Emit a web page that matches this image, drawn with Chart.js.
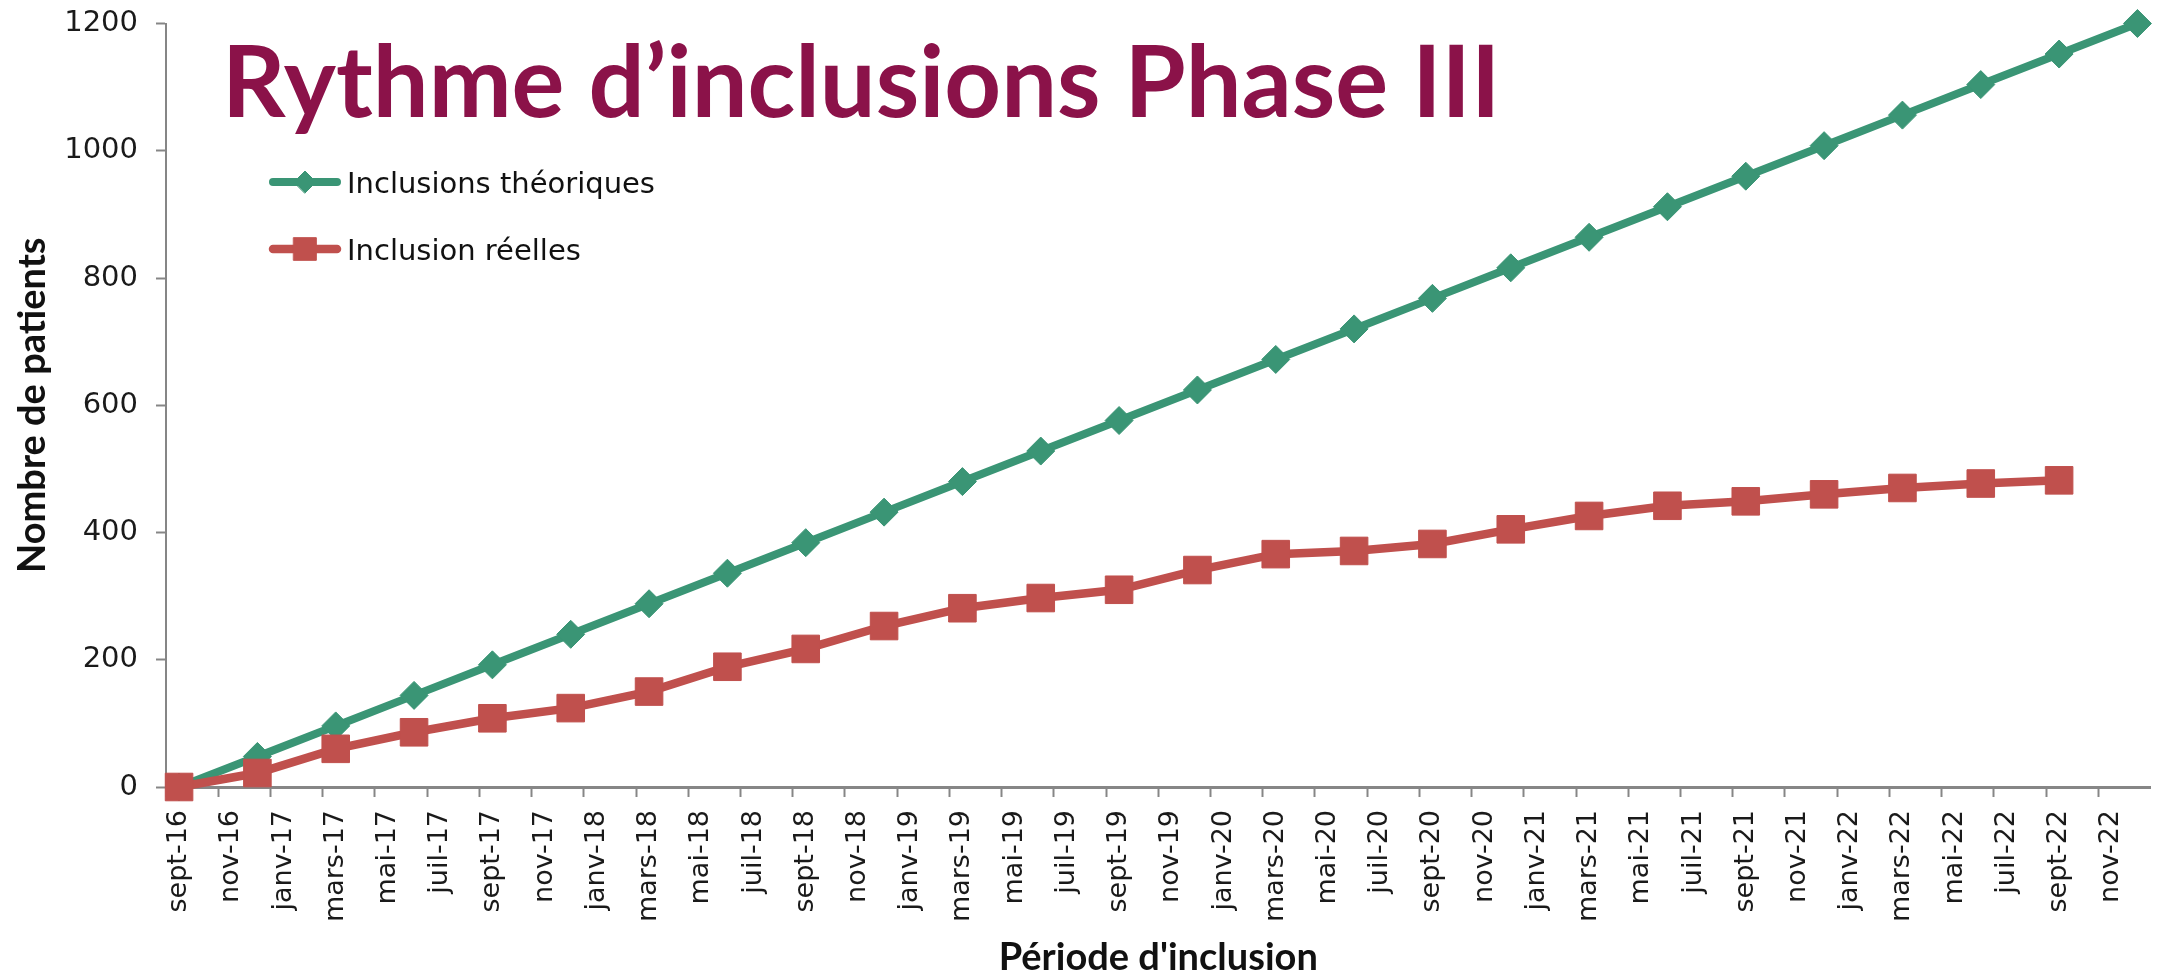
<!DOCTYPE html>
<html lang="fr">
<head>
<meta charset="utf-8">
<title>Rythme d’inclusions Phase III</title>
<script src="https://cdn.jsdelivr.net/npm/chart.js@4.4.1/dist/chart.umd.min.js"></script>
<style>
  html, body { margin: 0; padding: 0; background: #fff; }
  #wrap { position: relative; width: 2171px; height: 979px; }
  #title {
    position: absolute; left: 222px; top: 29px;
    font: bold 99px Lato, 'Open Sans', sans-serif; line-height: 1;
    color: #8b1249; white-space: nowrap;
  }
</style>
</head>
<body>
<div id="wrap">
  <canvas id="inclusions-chart" width="2171" height="979"></canvas>
  <div id="title">Rythme d’inclusions Phase III</div>
</div>
<script>
const MONTH_NAMES = ['janv', 'févr', 'mars', 'avr', 'mai', 'juin', 'juil', 'août', 'sept', 'oct', 'nov', 'déc'];

// one point per quarter, sept-16 -> déc-22
const quarters = [
  'sept-16', 'déc-16', 'mars-17', 'juin-17', 'sept-17', 'déc-17', 'mars-18', 'juin-18',
  'sept-18', 'déc-18', 'mars-19', 'juin-19', 'sept-19', 'déc-19', 'mars-20', 'juin-20',
  'sept-20', 'déc-20', 'mars-21', 'juin-21', 'sept-21', 'déc-21', 'mars-22', 'juin-22',
  'sept-22', 'déc-22'
];
const theoretical = [0, 48, 96, 144, 192, 240, 288, 336, 384, 432, 480, 528, 576, 624, 672, 720,
  768, 816, 864, 912, 960, 1008, 1056, 1104, 1152, 1200];
const actual = [0, 22, 60, 86, 108, 124, 150, 189, 217, 253, 281, 297, 310, 341, 366, 371,
  382, 405, 426, 442, 449, 460, 470, 477, 482];

const yTicks = [0, 200, 400, 600, 800, 1000, 1200];

// monthly category axis (labels shown every 2 months)
const months = [];
for (let y = 2016; y <= 2022; y++) {
    MONTH_NAMES.forEach((m, i) => {
        if (y === 2016 && i < 8) return;
        months.push(m + '-' + String(y).slice(2));
    });
}

const GREEN = '#3a9575';
const RED = '#c0504d';
const AXIS = '#868686';

Chart.defaults.font.family = "'DejaVu Sans', sans-serif";
Chart.defaults.color = '#1a1a1a';

// legend drawn inside the plot, top-left
const insideLegend = {
    id: 'insideLegend',
    afterDatasetsDraw(chart) {
        const ctx = chart.ctx;
        const items = [
            { ds: chart.data.datasets[0], y: 182, r: 11 },
            { ds: chart.data.datasets[1], y: 249, r: 16 },
        ];
        ctx.save();
        items.forEach(it => {
            ctx.strokeStyle = it.ds.borderColor;
            ctx.lineWidth = it.ds.borderWidth;
            ctx.lineCap = 'round';
            ctx.beginPath();
            ctx.moveTo(273, it.y);
            ctx.lineTo(337, it.y);
            ctx.stroke();
            ctx.fillStyle = it.ds.backgroundColor;
            ctx.strokeStyle = it.ds.borderColor;
            ctx.lineWidth = 1;
            Chart.helpers.drawPoint(ctx, { pointStyle: it.ds.pointStyle, radius: it.r, rotation: 0, borderWidth: 1 }, 305, it.y);
            ctx.fillStyle = '#111';
            ctx.font = "29px 'DejaVu Sans'";
            ctx.textAlign = 'left';
            ctx.textBaseline = 'alphabetic';
            ctx.fillText(it.ds.label, 347, it.y + 11);
        });
        ctx.restore();
    }
};

new Chart(document.getElementById('inclusions-chart'), {
    type: 'line',
    data: {
        labels: months,
        datasets: [
            {
                label: 'Inclusions théoriques',
                data: quarters.map((q, i) => ({ x: q, y: theoretical[i] })),
                borderColor: GREEN,
                backgroundColor: GREEN,
                borderWidth: 8,
                pointStyle: 'rectRot',
                pointRadius: 14,
                pointBorderWidth: 1,
                tension: 0,
                clip: false,
                order: 1,
            },
            {
                label: 'Inclusion réelles',
                data: quarters.slice(0, actual.length).map((q, i) => ({ x: q, y: actual[i] })),
                borderColor: RED,
                backgroundColor: RED,
                borderWidth: 8.5,
                pointStyle: 'rect',
                pointRadius: 19.5,
                pointBorderWidth: 1,
                tension: 0,
                clip: false,
                order: 0,
            }
        ]
    },
    options: {
        responsive: false,
        animation: false,
        layout: { padding: { top: 23.5, right: 18, bottom: 0, left: 0 } },
        plugins: {
            legend: { display: false },
            tooltip: { enabled: false },
        },
        scales: {
            x: {
                type: 'category',
                offset: true,
                afterFit: s => { s.height = 192; },
                grid: {
                    offset: true,
                    drawOnChartArea: false,
                    tickLength: 10,
                    tickWidth: 2,
                    tickColor: c => (c.index !== undefined && c.index % 2 === 0) ? AXIS : 'rgba(0,0,0,0)',
                },
                border: { color: AXIS, width: 3 },
                ticks: {
                    autoSkip: false,
                    minRotation: 90,
                    maxRotation: 90,
                    padding: 13,
                    font: { size: 27, lineHeight: 0.4 },
                    callback: (v, i) => i % 2 === 0 ? months[i] : '',
                },
                title: {
                    display: true,
                    text: "Période d'inclusion",
                    font: { family: "Lato, 'Open Sans', sans-serif", size: 38, weight: 'bold', lineHeight: 1.1 },
                    padding: 0,
                    color: '#111',
                },
            },
            y: {
                min: 0,
                max: 1200,
                afterFit: s => { s.width = 166; },
                afterBuildTicks: s => { s.ticks = yTicks.map(v => ({ value: v })); },
                grid: {
                    drawOnChartArea: false,
                    tickLength: 10,
                    tickWidth: 2,
                    tickColor: AXIS,
                },
                border: { color: AXIS, width: 2 },
                ticks: {
                    padding: 18,
                    font: { size: 29, lineHeight: 0.3 },
                    callback: v => String(v),
                },
                title: {
                    display: true,
                    text: 'Nombre de patients',
                    font: { family: "Lato, 'Open Sans', sans-serif", size: 38, weight: 'bold', lineHeight: 1.1 },
                    padding: { top: 12, bottom: 0 },
                    color: '#111',
                },
            }
        }
    },
    plugins: [insideLegend]
});
</script>
</body>
</html>
